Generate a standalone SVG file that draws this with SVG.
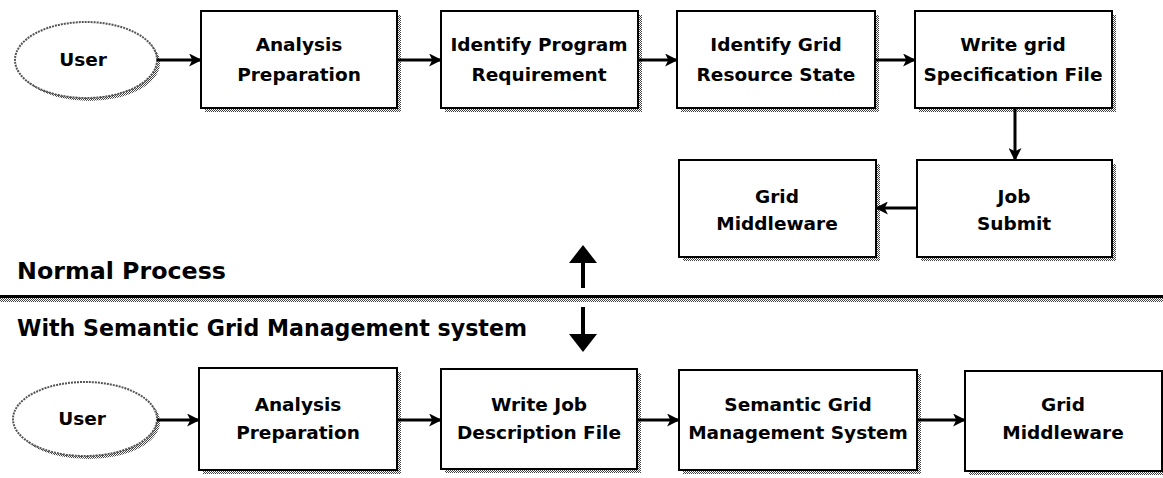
<svg xmlns="http://www.w3.org/2000/svg" width="1163" height="478" viewBox="0 0 1163 478">
  <defs>
    <marker id="head" viewBox="0 0 12 12" refX="11" refY="6" markerWidth="13" markerHeight="13" markerUnits="userSpaceOnUse" orient="auto">
      <path d="M0,0 L12,6 L0,12 L3,6 Z" fill="#000"/>
    </marker>
    <pattern id="dither" width="2" height="2" patternUnits="userSpaceOnUse">
      <rect width="2" height="2" fill="#fff"/>
      <rect width="1" height="1" fill="#444"/>
      <rect x="1" y="1" width="1" height="1" fill="#444"/>
    </pattern>
  </defs>
  <style>
    .box { fill: #fff; stroke: #000; stroke-width: 2; }
    .shadow { fill: url(#dither); }
    .oval { fill: #fff; stroke: #555; stroke-width: 2; stroke-dasharray: 2 1; }
    .lbl { font-family: "DejaVu Sans", Verdana, sans-serif; font-weight: bold; font-size: 18.5px; text-anchor: middle; fill: #000; }
    .title { font-family: "DejaVu Sans", Verdana, sans-serif; font-weight: bold; font-size: 23px; fill: #000; }
    .conn { stroke: #000; stroke-width: 3; fill: none; marker-end: url(#head); }
  </style>

  <rect width="1163" height="478" fill="#fff"/>

  <!-- upper flow: normal process -->
  <g id="user-top">
    <ellipse class="shadow" cx="89" cy="63" rx="71" ry="38"/>
    <ellipse class="oval" cx="86" cy="60" rx="71" ry="38"/>
    <text class="lbl" x="83" y="66">User</text>
  </g>
  <g id="analysis-top">
    <rect class="shadow" x="205" y="15" width="196" height="97"/>
    <rect class="box" x="201" y="11" width="196" height="97"/>
    <text class="lbl" x="299" y="51">Analysis</text>
    <text class="lbl" x="299" y="81">Preparation</text>
  </g>
  <g id="identify-program">
    <rect class="shadow" x="445" y="15" width="197" height="97"/>
    <rect class="box" x="441" y="11" width="197" height="97"/>
    <text class="lbl" x="539" y="51">Identify Program</text>
    <text class="lbl" x="539" y="81">Requirement</text>
  </g>
  <g id="identify-grid">
    <rect class="shadow" x="681" y="15" width="198" height="97"/>
    <rect class="box" x="677" y="11" width="198" height="97"/>
    <text class="lbl" x="776" y="51">Identify Grid</text>
    <text class="lbl" x="776" y="81">Resource State</text>
  </g>
  <g id="write-spec">
    <rect class="shadow" x="919" y="15" width="197" height="97"/>
    <rect class="box" x="915" y="11" width="197" height="97"/>
    <text class="lbl" x="1013" y="51">Write grid</text>
    <text class="lbl" x="1013" y="81">Specification File</text>
  </g>
  <g id="job-submit">
    <rect class="shadow" x="921" y="164" width="195" height="97"/>
    <rect class="box" x="917" y="160" width="195" height="97"/>
    <text class="lbl" x="1014" y="203">Job</text>
    <text class="lbl" x="1014" y="230">Submit</text>
  </g>
  <g id="middleware-top">
    <rect class="shadow" x="683" y="164" width="197" height="97"/>
    <rect class="box" x="679" y="160" width="197" height="97"/>
    <text class="lbl" x="777" y="203">Grid</text>
    <text class="lbl" x="777" y="230">Middleware</text>
  </g>

  <!-- section divider and headings -->
  <g id="divider">
    <rect x="0" y="298" width="1163" height="4" fill="url(#dither)"/>
    <rect x="0" y="295" width="1163" height="3" fill="#000"/>
    <text class="title" x="17" y="279" textLength="209" lengthAdjust="spacingAndGlyphs">Normal Process</text>
    <text class="title" x="17" y="336" textLength="510" lengthAdjust="spacingAndGlyphs">With Semantic Grid Management system</text>
  </g>

  <!-- lower flow: semantic grid management -->
  <g id="user-bottom">
    <ellipse class="shadow" cx="88" cy="422" rx="72" ry="37"/>
    <ellipse class="oval" cx="85" cy="419" rx="72" ry="37"/>
    <text class="lbl" x="82" y="425">User</text>
  </g>
  <g id="analysis-bottom">
    <rect class="shadow" x="203" y="372" width="198" height="102"/>
    <rect class="box" x="199" y="368" width="198" height="102"/>
    <text class="lbl" x="298" y="411">Analysis</text>
    <text class="lbl" x="298" y="439">Preparation</text>
  </g>
  <g id="write-job">
    <rect class="shadow" x="445" y="373" width="196" height="100"/>
    <rect class="box" x="441" y="369" width="196" height="100"/>
    <text class="lbl" x="539" y="411">Write Job</text>
    <text class="lbl" x="539" y="439">Description File</text>
  </g>
  <g id="semantic-grid">
    <rect class="shadow" x="683" y="374" width="238" height="100"/>
    <rect class="box" x="679" y="370" width="238" height="100"/>
    <text class="lbl" x="798" y="411">Semantic Grid</text>
    <text class="lbl" x="798" y="439">Management System</text>
  </g>
  <g id="middleware-bottom">
    <rect class="shadow" x="969" y="375" width="194" height="100"/>
    <rect class="box" x="965" y="371" width="197" height="100"/>
    <text class="lbl" x="1063" y="411">Grid</text>
    <text class="lbl" x="1063" y="439">Middleware</text>
  </g>

  <g id="connectors">
    <line class="conn" x1="157" y1="60" x2="201" y2="60"/>
    <line class="conn" x1="397" y1="60" x2="441" y2="60"/>
    <line class="conn" x1="638" y1="60" x2="677" y2="60"/>
    <line class="conn" x1="875" y1="60" x2="915" y2="60"/>
    <line class="conn" x1="1015" y1="108" x2="1015" y2="160"/>
    <line class="conn" x1="917" y1="208" x2="876" y2="208"/>
    <line class="conn" x1="157" y1="420" x2="199" y2="420"/>
    <line class="conn" x1="397" y1="420" x2="441" y2="420"/>
    <line class="conn" x1="637" y1="420" x2="679" y2="420"/>
    <line class="conn" x1="917" y1="420" x2="965" y2="420"/>
    <!-- section arrows either side of the divider -->
    <rect x="581" y="260" width="4" height="28" fill="#000"/>
    <path d="M569,263 L583,245 L597,263 Z" fill="#000"/>
    <rect x="581" y="307" width="4" height="30" fill="#000"/>
    <path d="M569,334 L583,352 L597,334 Z" fill="#000"/>
  </g>
</svg>
